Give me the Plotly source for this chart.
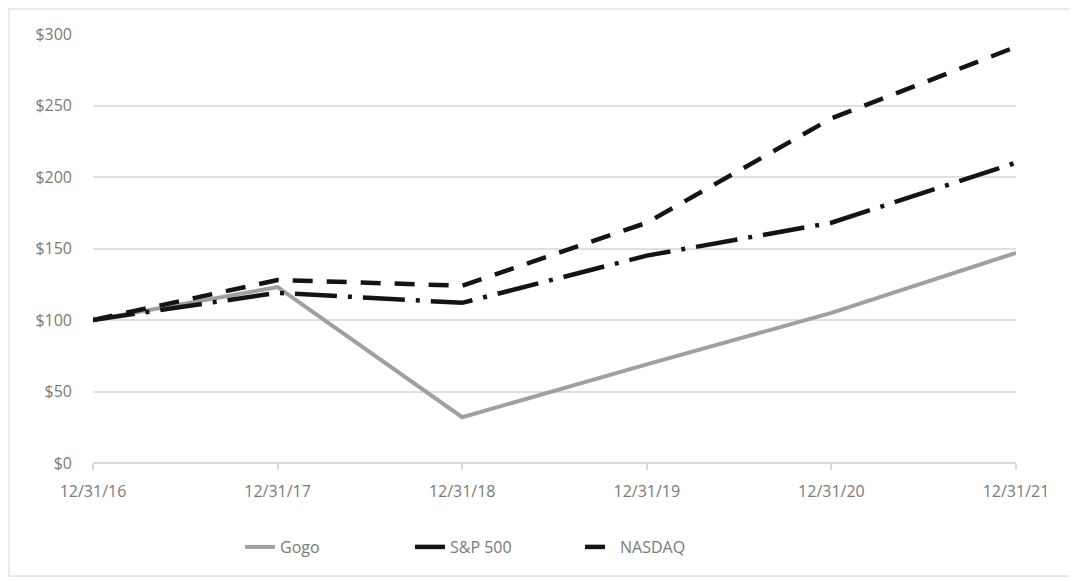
import plotly.graph_objects as go

dates = ["12/31/16", "12/31/17", "12/31/18", "12/31/19", "12/31/20", "12/31/21"]
gogo = [100, 123, 32, 69, 105, 147]
sp500 = [100, 119, 112, 145, 168, 210]
nasdaq = [100, 128, 124, 168, 241, 291]
y_ticks = [0, 50, 100, 150, 200, 250, 300]
y_labels = ["$" + str(v) for v in y_ticks]

x_idx = list(range(len(dates)))

W, H = 1069, 573
L, T, PW, PH = 85, 26, 923, 429

fig = go.Figure()
fig.add_trace(go.Scatter(x=x_idx, y=gogo, name="Gogo", mode="lines",
                         line=dict(color="#a0a0a0", width=4)))
fig.add_trace(go.Scatter(x=x_idx, y=sp500, name="S&P 500", mode="lines",
                         line=dict(color="#141414", width=4.5, dash="42px,11px,4px,11px")))
fig.add_trace(go.Scatter(x=x_idx, y=nasdaq, name="NASDAQ", mode="lines",
                         line=dict(color="#141414", width=4.5, dash="20px,14px")))

fig.update_layout(
    width=W, height=H,
    margin=dict(l=L, r=W - L - PW, t=T, b=H - T - PH),
    paper_bgcolor="white", plot_bgcolor="white",
    font=dict(family="Open Sans", size=16, color="#7a7a7a"),
    showlegend=True,
    legend=dict(orientation="h", x=(240 - 93) / PW, xanchor="left", y=-(546 - 462) / PH,
                yanchor="middle", font=dict(size=16, color="#7a7a7a"),
                entrywidth=125, entrywidthmode="pixels"),
    xaxis=dict(range=[0, 5], tickvals=x_idx, ticktext=dates, showgrid=False,
               zeroline=False, showline=False, ticks="outside", ticklen=6,
               tickcolor="#d9d9d9", tickwidth=1.5, ticklabelstandoff=8,
               automargin=False),
    yaxis=dict(range=[0, 300], tickvals=y_ticks, ticktext=y_labels, showgrid=True,
               gridcolor="#e0e0e0", gridwidth=1.5, zeroline=True, zerolinecolor="#d9d9d9",
               zerolinewidth=1.5, showline=False, ticks="", ticklabelstandoff=20,
               automargin=False),
    shapes=[dict(type="rect", xref="paper", yref="paper",
                 x0=(1 - L) / PW, x1=(1064 - L) / PW,
                 y0=-(568 - (T + PH)) / PH, y1=(T + PH - 1) / PH,
                 line=dict(color="#e3e3e3", width=1.5), layer="below")],
)

fig.write_html("out.html")
